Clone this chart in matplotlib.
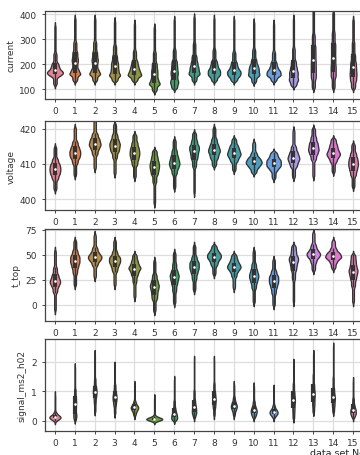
import numpy as np
import matplotlib
matplotlib.use("Agg")
import matplotlib.pyplot as plt
import seaborn as sns

# categories: data set numbers
datasets = [str(i) for i in range(16)]

# Each list: octile summary (min, 12.5%, 25%, 37.5%, 50%, 62.5%, 75%, 87.5%, max)
current = [
    [115, 150, 160, 167, 175, 188, 205, 245, 355],
    [130, 155, 165, 180, 205, 225, 250, 290, 385],
    [130, 155, 165, 180, 205, 225, 250, 290, 385],
    [130, 150, 160, 175, 192, 210, 235, 275, 375],
    [130, 150, 158, 168, 180, 195, 215, 255, 365],
    [90, 115, 125, 140, 160, 180, 205, 250, 350],
    [100, 120, 135, 155, 172, 192, 215, 260, 380],
    [130, 155, 165, 178, 192, 210, 235, 285, 390],
    [130, 150, 160, 170, 180, 195, 215, 260, 385],
    [130, 148, 158, 167, 176, 190, 210, 250, 380],
    [125, 150, 160, 172, 184, 198, 220, 260, 370],
    [130, 150, 158, 167, 176, 190, 210, 250, 365],
    [110, 130, 143, 158, 172, 190, 215, 265, 385],
    [100, 140, 165, 190, 216, 245, 275, 320, 420],
    [100, 145, 170, 195, 224, 255, 285, 330, 410],
    [100, 130, 150, 168, 188, 210, 240, 290, 380],
]
voltage = [
    [402.5, 405.5, 406.8, 407.7, 408.5, 409.3, 410.2, 411.6, 415.0],
    [406.5, 410.0, 411.5, 412.4, 413.2, 414.0, 415.0, 416.5, 420.5],
    [408.5, 412.5, 414.0, 415.0, 415.7, 416.5, 417.4, 418.8, 422.5],
    [407.0, 411.5, 413.3, 414.3, 415.2, 416.0, 417.0, 418.5, 421.5],
    [406.0, 409.5, 411.0, 412.1, 413.0, 413.9, 414.9, 416.3, 418.5],
    [398.5, 404.5, 406.8, 408.0, 409.0, 409.9, 410.9, 412.2, 414.0],
    [403.0, 407.0, 408.6, 409.6, 410.4, 411.3, 412.4, 414.0, 417.0],
    [401.5, 409.0, 411.2, 412.5, 413.6, 414.5, 415.4, 416.8, 419.0],
    [409.3, 411.3, 412.4, 413.3, 414.0, 414.8, 415.8, 417.3, 420.5],
    [408.0, 410.5, 411.6, 412.4, 413.0, 413.7, 414.5, 415.5, 417.3],
    [407.3, 408.8, 409.6, 410.2, 410.7, 411.3, 412.0, 413.3, 416.3],
    [405.7, 408.0, 409.0, 409.6, 410.2, 410.8, 411.4, 412.3, 413.5],
    [406.0, 409.0, 410.2, 411.1, 411.8, 412.6, 413.6, 415.2, 419.8],
    [406.2, 411.0, 412.6, 413.6, 414.4, 415.3, 416.3, 417.8, 420.3],
    [407.5, 410.4, 411.6, 412.4, 413.0, 413.7, 414.6, 415.7, 417.3],
    [403.2, 406.5, 408.0, 409.1, 410.0, 410.9, 411.9, 413.3, 415.8],
]
t_top = [
    [-6, 12, 18, 21.5, 24, 27, 31, 38, 55],
    [19, 31, 37, 41, 44, 47, 50, 55, 65],
    [27, 39, 43.5, 46, 48, 50, 53, 58, 71],
    [19, 33, 38, 41.5, 44, 46.5, 49, 54, 65],
    [7, 22, 29, 33, 36, 38, 41, 45, 51],
    [-7, 5, 10, 14.5, 18, 21, 25, 31, 45],
    [1, 13, 20, 24.5, 28, 31, 35, 42, 53],
    [14, 25, 31, 35, 38, 41, 44, 49, 60],
    [30, 39, 43, 46, 48, 50, 52, 55, 60],
    [16, 28, 33, 36, 38, 40, 42.5, 46, 51],
    [2, 16, 22, 26, 29, 32, 36, 42, 55],
    [-1, 11, 17, 21, 24, 27, 30, 35, 46],
    [2, 25, 34, 39, 43, 46, 49, 54, 60],
    [34, 42, 46.5, 49, 51, 53, 56, 61, 73],
    [36, 42, 45.5, 47.5, 49, 51, 53, 57, 65],
    [2, 18, 25, 29.5, 33, 36, 40, 45, 51],
]
signal_ms2_h02 = [
    [0.0, 0.06, 0.09, 0.12, 0.14, 0.17, 0.21, 0.3, 0.9],
    [0.02, 0.15, 0.25, 0.42, 0.57, 0.7, 0.85, 1.1, 1.85],
    [0.3, 0.6, 0.78, 0.9, 0.99, 1.08, 1.2, 1.45, 2.3],
    [0.22, 0.5, 0.63, 0.73, 0.81, 0.9, 1.02, 1.25, 1.9],
    [0.17, 0.3, 0.37, 0.42, 0.46, 0.5, 0.56, 0.68, 1.25],
    [0.0, 0.03, 0.05, 0.06, 0.07, 0.09, 0.11, 0.17, 0.8],
    [0.01, 0.07, 0.12, 0.18, 0.24, 0.32, 0.45, 0.7, 1.42],
    [0.1, 0.23, 0.3, 0.38, 0.46, 0.56, 0.72, 1.05, 2.1],
    [0.17, 0.42, 0.55, 0.66, 0.75, 0.86, 1.0, 1.3, 2.1],
    [0.17, 0.33, 0.41, 0.47, 0.52, 0.58, 0.66, 0.82, 1.25],
    [0.1, 0.2, 0.26, 0.32, 0.37, 0.43, 0.52, 0.68, 1.2],
    [0.1, 0.2, 0.24, 0.28, 0.32, 0.36, 0.42, 0.55, 1.12],
    [0.06, 0.28, 0.45, 0.6, 0.71, 0.83, 1.0, 1.3, 2.0],
    [0.28, 0.5, 0.65, 0.8, 0.92, 1.05, 1.25, 1.6, 2.3],
    [0.28, 0.47, 0.6, 0.72, 0.81, 0.93, 1.12, 1.5, 2.55],
    [0.1, 0.2, 0.26, 0.32, 0.38, 0.45, 0.56, 0.78, 1.38],
]

variables = ["current", "voltage", "t_top", "signal_ms2_h02"]
series = [current, voltage, t_top, signal_ms2_h02]
yticks = [[100, 200, 300, 400], [400, 410, 420], [0, 25, 50, 75], [0, 1, 2]]
ylims = [(60, 412), (396.9, 422.2), (-16, 76), (-0.34, 2.78)]
xlabel = "data set No."

plt.rcParams.update({
    "font.family": ["DejaVu Sans"],
    "font.size": 6.5,
    "axes.edgecolor": "#444444",
    "axes.linewidth": 0.9,
    "xtick.color": "#444444",
    "ytick.color": "#444444",
    "xtick.labelcolor": "#333333",
    "ytick.labelcolor": "#333333",
    "xtick.major.size": 2.5,
    "ytick.major.size": 2.5,
    "xtick.major.width": 0.7,
    "ytick.major.width": 0.7,
    "xtick.major.pad": 2.8,
})

colors = [sns.desaturate(c, 0.75) for c in sns.color_palette("husl", len(datasets))]
LINE = "#333333"


def density_from_octiles(q, sigma):
    """Density implied by octile summary, lightly smoothed."""
    q = np.asarray(q, float)
    grid = np.linspace(q[0] - 2.5 * sigma, q[-1] + 2.5 * sigma, 600)
    dx = grid[1] - grid[0]
    dens = np.zeros_like(grid)
    for lo, hi in zip(q[:-1], q[1:]):
        m = (grid >= lo) & (grid < hi)
        dens[m] = 0.125 / (hi - lo)
    half = int(np.ceil(3 * sigma / dx))
    k = np.exp(-0.5 * ((np.arange(-half, half + 1) * dx) / sigma) ** 2)
    k /= k.sum()
    return grid, np.convolve(dens, k, mode="same")


W, H = 360, 456
fig = plt.figure(figsize=(W / 100, H / 100), dpi=100)
boxes = [(12, 100), (122, 211), (230, 322), (340, 432)]
left_px, right_px = 45, 363
vwidth = 0.8

for (top, bot), var, vals, yt, yl in zip(boxes, variables, series, yticks, ylims):
    ax = fig.add_axes([left_px / W, 1 - bot / H, (right_px - left_px) / W, (bot - top) / H])
    sigma = 0.014 * (yl[1] - yl[0])
    dens_list = [density_from_octiles(v, sigma) for v in vals]
    gmax = max(d.max() for _, d in dens_list)
    for i, ((grid, d), v) in enumerate(zip(dens_list, vals)):
        hw = vwidth / 2 * d / gmax
        ax.fill_betweenx(grid, i - hw, i + hw, facecolor=colors[i], edgecolor=LINE,
                         linewidth=0.95, zorder=2)
        v = np.asarray(v, float)
        q1, med, q3 = v[2], v[4], v[6]
        iqr = q3 - q1
        lo = v[v >= q1 - 1.5 * iqr].min()
        hi = v[v <= q3 + 1.5 * iqr].max()
        ax.vlines(i, lo, hi, color=LINE, linewidth=1.0, zorder=3)
        ax.vlines(i, q1, q3, color=LINE, linewidth=3.0, zorder=3)
        ax.scatter([i], [med], s=3.5, color="white", zorder=4, linewidths=0)
    ax.set_axisbelow(True)
    ax.grid(True, color="#dddddd", linewidth=0.9)
    ax.set_xticks(range(len(datasets)))
    ax.set_xticklabels(datasets)
    ax.set_yticks(yt)
    ax.set_ylim(*yl)
    ax.set_xlim(-0.5, len(datasets) - 0.5)
    ax.set_ylabel(var, fontsize=6.5, color="#333333", labelpad=3)

fig.text(310 / W, 0.2 / H, xlabel, fontsize=6.8, color="#222222", va="baseline", ha="left")
fig.savefig("out.png", dpi=100)
